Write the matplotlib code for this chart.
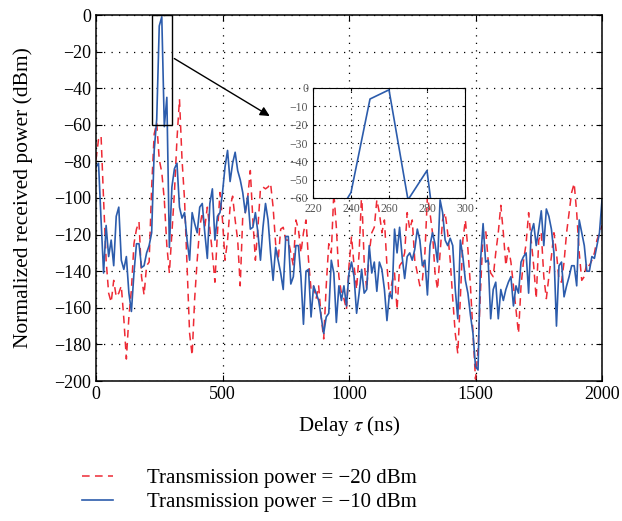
import matplotlib.pyplot as plt
import numpy as np
from matplotlib.patches import Rectangle

plt.rcParams['font.family'] = ['Liberation Serif', 'DejaVu Serif']
plt.rcParams['mathtext.fontset'] = 'stix'

#-----Data-----#
delay = np.arange(0, 2001, 10)

# transmission power = -10 dBm (solid blue)
p_m10 = [
    -83, -81, -112, -141, -115, -132, -123, -137, -110, -105,
    -134, -139, -132, -152, -162, -141, -125, -125, -138, -137,
    -130, -126, -119, -74, -57, -6, -1, -61, -45, -127,
    -94, -84, -81, -105, -111, -108, -123, -134, -108, -114,
    -119, -105, -103, -119, -133, -103, -95, -123, -110, -108,
    -97, -83, -74, -91, -81, -75, -85, -90, -97, -108,
    -99, -117, -116, -108, -119, -134, -116, -103, -112, -130,
    -145, -127, -134, -141, -150, -121, -121, -147, -143, -126,
    -126, -143, -169, -140, -139, -165, -148, -152, -156, -165,
    -174, -165, -163, -134, -141, -168, -148, -156, -148, -159,
    -141, -135, -143, -163, -152, -139, -152, -150, -126, -141,
    -135, -151, -135, -139, -150, -167, -152, -155, -117, -130,
    -116, -132, -144, -132, -130, -134, -128, -117, -123, -137,
    -134, -153, -126, -119, -125, -135, -101, -108, -123, -126,
    -122, -126, -150, -166, -123, -132, -145, -152, -164, -174,
    -192, -194, -134, -114, -135, -134, -166, -150, -146, -166,
    -150, -156, -150, -146, -143, -159, -148, -152, -135, -132,
    -130, -152, -119, -114, -126, -117, -107, -126, -106, -110,
    -117, -130, -170, -137, -135, -154, -148, -143, -137, -137,
    -148, -112, -119, -126, -140, -140, -132, -133, -126, -119,
    -101,
]

# transmission power = -20 dBm (dashed red)
p_m20 = [
    -79, -68, -66, -101, -134, -152, -157, -145, -154, -152,
    -148, -166, -188, -165, -150, -125, -117, -113, -143, -153,
    -137, -135, -94, -65, -59, -79, -86, -101, -126, -141,
    -119, -97, -68, -46, -79, -101, -137, -174, -186, -155,
    -134, -116, -108, -116, -105, -117, -130, -146, -119, -97,
    -112, -134, -123, -105, -99, -112, -123, -148, -110, -108,
    -99, -85, -112, -134, -116, -95, -94, -95, -94, -92,
    -105, -125, -134, -117, -116, -123, -123, -130, -137, -112,
    -117, -130, -119, -112, -134, -150, -148, -155, -148, -165,
    -177, -148, -125, -130, -97, -116, -143, -152, -155, -161,
    -137, -121, -137, -150, -130, -97, -135, -150, -130, -119,
    -116, -101, -108, -119, -112, -137, -154, -146, -141, -161,
    -137, -135, -130, -108, -117, -112, -134, -141, -148, -145,
    -130, -99, -108, -119, -141, -150, -130, -112, -108, -119,
    -134, -155, -174, -185, -155, -123, -112, -128, -148, -174,
    -199, -183, -150, -119, -117, -134, -141, -143, -130, -119,
    -104, -119, -137, -127, -135, -148, -161, -174, -148, -134,
    -125, -108, -123, -137, -155, -123, -119, -143, -155, -143,
    -132, -119, -130, -145, -146, -135, -119, -108, -97, -92,
    -108, -130, -145, -143, -135, -137, -134, -130, -123, -119,
    -115,
]

labels = ["Transmission power = \u221220 dBm", "Transmission power = \u221210 dBm"]
red = '#ee2a35'
blue = '#2c5cac'

#-----Plot-----#
fig = plt.figure(figsize=(6.22, 5.21), dpi=100)
ax = fig.add_axes([96/622, 1-381/521, 506/622, 366/521])
l1, = ax.plot(delay, p_m20, color=red, linestyle=(0, (5, 3.5)), linewidth=1.1)
l2, = ax.plot(delay, p_m10, color=blue, linewidth=1.2)
ax.set_xlim(0, 2000)
ax.set_ylim(-200, 0)
ax.set_xticks(np.arange(0, 2001, 500))
ax.set_yticks(np.arange(-200, 1, 20))
ax.tick_params(direction='in', length=4, labelsize=13, top=True, right=True)
ax.grid(True, linestyle=(0, (1, 5)), color='black', linewidth=0.9)
ax.set_xlabel(r"Delay $\tau$ (ns)", fontsize=15, labelpad=8)
ax.set_ylabel("Normalized received power (dBm)", fontsize=15.5, labelpad=15)
for s in ax.spines.values():
    s.set_linewidth(1.1)

# zoom box and arrow
ax.add_patch(Rectangle((220, -60), 80, 60, fill=False, edgecolor='black', linewidth=1.0, zorder=5))
ax.annotate("", xy=(696, -56), xytext=(300, -23),
            arrowprops=dict(arrowstyle='-|>', color='black', linewidth=1.0, mutation_scale=14))

# inset
axin = fig.add_axes([313/622, 1-198/521, 152/622, 110/521])
axin.plot(delay, p_m10, color=blue, linewidth=1.2)
axin.set_xlim(220, 300)
axin.set_ylim(-60, 0)
axin.set_xticks(np.arange(220, 301, 20))
axin.set_yticks(np.arange(-60, 1, 10))
axin.tick_params(direction='in', length=2, labelsize=8.5, labelcolor='#555555', top=True, right=True)
axin.grid(True, linestyle=(0, (1, 4)), color='black', linewidth=0.8)

fig.legend([l1, l2], labels, loc='upper left', bbox_to_anchor=(63/622, 1-450/521),
           frameon=False, fontsize=15, handlelength=1.5, handletextpad=1.63, labelspacing=0.2)

plt.savefig("out.png", dpi=100)
